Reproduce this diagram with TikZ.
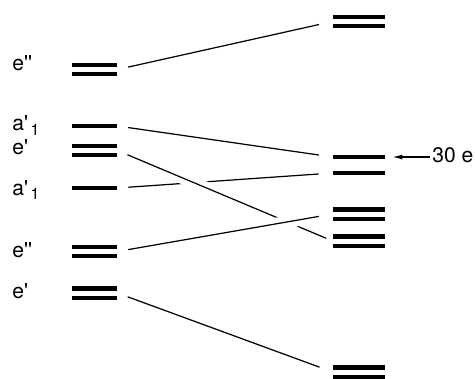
\documentclass[tikz,border=0pt]{standalone}
\usepackage{fontspec}
\setmainfont{TeX Gyre Heros}
\usetikzlibrary{arrows.meta}

% straight prime for the symmetry labels
\newcommand\pr{\textquotesingle}
\newcommand\sub[1]{\kern1.5pt\raisebox{-2.8pt}{\fontsize{9}{10}\selectfont #1}}

\tikzset{
  lvl/.style={fill=black, inner sep=0pt, minimum height=0.085cm},
  dbl/.style={inner sep=0pt, minimum height=0.27cm,
    path picture={
      \fill (path picture bounding box.north west) rectangle
            ([yshift=-0.085cm]path picture bounding box.north east);
      \fill ([yshift=0.085cm]path picture bounding box.south west) rectangle
            (path picture bounding box.south east);}},
  lft/.style={minimum width=0.9cm},
  rgt/.style={minimum width=1.04cm},
  sym/.style={anchor=base west, inner sep=0pt},
  conn/.style={line width=0.7pt, shorten <=0.22cm, shorten >=0.28cm},
  cut/.style={preaction={draw, white, line width=7pt}}
}

\begin{document}
\begin{tikzpicture}[x=0.02cm, y=-0.02cm, font=\fontsize{12}{14}\selectfont]

\useasboundingbox (0,0) rectangle (475,378);

% left column
\node[dbl, lft] (eppA) at (94.5,69.5) {};
\node[lvl, lft] (aoneA) at (94.5,126) {};
\node[dbl, lft] (epA) at (94.5,150.5) {};
\node[lvl, lft] (aoneB) at (94.5,188) {};
\node[dbl, lft] (eppB) at (94.5,251.5) {};
\node[dbl, lft] (epB) at (94.5,293) {};

% labels of the left column
\node[sym] (teppA) at (12,71) {e\pr\pr};
\node[sym] (taoneA) at (12,131) {a\pr\sub{1}};
\node[sym] (tepA) at (12,154) {e\pr};
\node[sym] (taoneB) at (12,195) {a\pr\sub{1}};
\node[sym] (teppB) at (12,257) {e\pr\pr};
\node[sym] (tepB) at (12,298) {e\pr};

% right column
\node[dbl, rgt] (rOne) at (359,21.5) {};
\node[lvl, rgt] (rTwo) at (359,157) {};
\node[lvl, rgt] (rThree) at (359,173) {};
\node[dbl, rgt] (rFour) at (359,214) {};
\node[dbl, rgt] (rFive) at (359,241) {};
\node[dbl, rgt] (rSix) at (359,372) {};

% correlation lines
\draw[conn] (eppA.east) -- (rOne.west);
\draw[conn] (aoneA.east) -- (rTwo.west);
\draw[conn] (aoneB.east) -- (rThree.west);
\draw[conn, cut, shorten >=0.14cm] (epA.east) -- (rFive.west);
\draw[conn, cut] (eppB.east) -- (rFour.west);
\draw[conn] (epB.east) -- (rSix.west);

% electron count
\node[sym] (tcount) at (432,162) {30 e};
\draw[-{Latex[length=0.2cm, width=0.1cm]}, line width=0.7pt,
      shorten <=0.04cm, shorten >=0.14cm]
  (tcount.west |- rTwo) -- (rTwo.east);

\end{tikzpicture}
\end{document}
